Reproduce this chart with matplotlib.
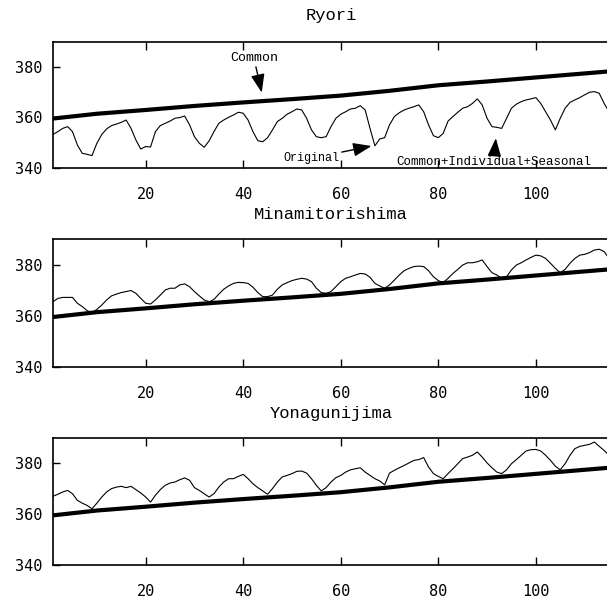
import numpy as np
import matplotlib
matplotlib.use('Agg')
import matplotlib.pyplot as plt

months = np.arange(1, 116)

# common trend (shared by all stations)
common_x = [1, 10, 20, 30, 40, 50, 60, 70, 80, 90, 100, 110, 115]
common_y = [359.5, 361.4, 362.9, 364.5, 365.9, 367.2, 368.6, 370.5, 372.7,
            374.2, 375.8, 377.4, 378.2]

ryori = [353.2, 354.3, 355.6, 356.3, 354.3, 349.0, 345.7, 345.3, 344.8, 349.7,
         353.2, 355.4, 356.7, 357.3, 358.0, 358.9, 355.6, 351.0, 347.4, 348.4,
         348.2, 354.3, 356.7, 357.6, 358.5, 359.6, 359.9, 360.5, 357.0, 352.3,
         349.7, 348.1, 350.6, 354.3, 357.6, 358.9, 360.0, 360.9, 362.0, 361.6,
         358.9, 354.3, 350.7, 350.3, 351.9, 355.0, 358.3, 359.6, 361.2, 362.2,
         363.3, 362.9, 359.6, 355.0, 352.3, 351.9, 352.3, 356.3, 359.6, 361.2,
         362.2, 363.3, 363.6, 364.6, 362.9, 355.6, 348.7, 351.4, 351.9, 357.0,
         360.3, 361.8, 362.9, 363.6, 364.2, 364.9, 362.2, 357.0, 352.7, 351.9,
         353.6, 358.5, 360.3, 362.0, 363.6, 364.2, 365.5, 367.3, 364.9, 359.6,
         356.3, 356.0, 355.6, 359.6, 363.6, 365.2, 366.2, 366.9, 367.3, 367.8,
         365.5, 362.2, 358.9, 355.0, 359.6, 363.6, 365.9, 366.9, 367.8, 368.9,
         369.9, 370.2, 369.5, 365.5, 362.2]

minami = [365.5, 366.8, 367.2, 367.2, 367.2, 364.9, 363.6, 362.0, 361.2, 362.5,
          364.2, 366.2, 367.8, 368.5, 369.1, 369.5, 369.9, 368.8, 366.8, 364.9,
          364.6, 366.2, 368.1, 370.1, 370.8, 370.8, 372.1, 372.5, 371.4, 369.5,
          367.8, 366.2, 365.5, 366.4, 368.5, 370.4, 371.7, 372.7, 373.1, 373.0,
          372.7, 371.2, 369.1, 367.5, 367.5, 368.1, 370.4, 372.1, 373.0, 373.8,
          374.3, 374.7, 374.4, 373.4, 370.8, 369.1, 368.8, 369.5, 371.4, 373.4,
          374.7, 375.3, 376.0, 376.6, 376.4, 375.1, 372.7, 371.7, 370.8, 372.1,
          374.0, 376.0, 377.7, 378.6, 379.3, 379.5, 379.3, 377.7, 375.3, 373.8,
          373.0, 374.7, 376.6, 378.2, 379.9, 380.8, 380.8, 381.2, 381.9, 379.3,
          376.9, 376.0, 374.7, 375.3, 378.0, 379.9, 380.8, 381.9, 382.9, 383.8,
          383.5, 382.5, 380.6, 378.6, 376.9, 378.2, 380.6, 382.5, 383.8, 384.1,
          384.8, 385.8, 386.1, 385.2, 382.5]

yonaguni = [367.0, 367.8, 368.7, 369.3, 368.0, 365.4, 364.3, 363.4, 362.1, 364.3,
            366.7, 368.7, 370.0, 370.6, 370.9, 370.4, 370.9, 369.6, 368.3, 366.7,
            364.7, 367.4, 369.6, 371.3, 372.2, 372.6, 373.5, 374.2, 373.3, 370.4,
            369.3, 368.0, 366.7, 368.0, 370.6, 372.6, 373.9, 373.9, 374.8, 375.6,
            373.9, 371.9, 370.4, 369.1, 367.8, 370.0, 372.6, 374.6, 375.2, 375.9,
            376.8, 376.9, 376.1, 373.9, 371.3, 369.1, 370.4, 372.6, 374.3, 375.2,
            376.5, 377.4, 377.8, 378.2, 376.5, 375.2, 373.9, 373.0, 371.5, 376.1,
            377.2, 378.2, 379.1, 380.1, 381.1, 381.4, 382.2, 378.5, 375.9, 374.8,
            373.9, 375.9, 377.8, 379.8, 381.8, 382.4, 383.1, 384.4, 382.4, 380.1,
            378.2, 376.5, 375.9, 377.4, 379.8, 381.4, 383.1, 384.8, 385.3, 385.4,
            384.8, 383.1, 381.1, 378.8, 377.4, 379.8, 383.1, 385.7, 386.6, 387.0,
            387.4, 388.3, 386.6, 385.0, 383.1]

stations = ['Ryori', 'Minamitorishima', 'Yonagunijima']
series = [ryori, minami, yonaguni]

title_font = 'Liberation Mono'
tick_font = 'DejaVu Sans Mono'

fig = plt.figure(figsize=(6.07, 6.03), dpi=100)
boxes = [[0.0873, 0.7219, 0.916, 0.209],
         [0.0873, 0.3919, 0.916, 0.2112],
         [0.0873, 0.0630, 0.916, 0.2111]]
pads = [15.5, 14.5, 14.5]
axes = []
for name, vals, box, pad in zip(stations, series, boxes, pads):
    ax = fig.add_axes(box)
    ax.plot(common_x, common_y, color='black', lw=3)
    ax.plot(months, vals, color='black', lw=0.8)
    ax.set_xlim(1, 115)
    ax.set_ylim(340, 390)
    ax.set_xticks([20, 40, 60, 80, 100])
    ax.set_yticks([340, 360, 380])
    ax.tick_params(axis='x', direction='in', top=True, length=6, width=1,
                   pad=14, labelsize=11)
    ax.tick_params(axis='y', direction='in', length=5, width=1, pad=8,
                   labelsize=11)
    for lab in ax.get_xticklabels() + ax.get_yticklabels():
        lab.set_family(tick_font)
    ax.spines['right'].set_visible(False)
    for s in ['left', 'top', 'bottom']:
        ax.spines[s].set_linewidth(1.2)
    ax.set_title(name, family=title_font, fontsize=12.3, pad=pad)
    axes.append(ax)

ax = axes[0]
arrow = dict(arrowstyle='-|>,head_length=0.8,head_width=0.3', color='black',
             lw=1, mutation_scale=14, shrinkA=0, shrinkB=0)
ax.annotate('Common', xy=(43.8, 369.8), xytext=(42.2, 383.5),
            family=title_font, fontsize=9.5, ha='center', va='center',
            arrowprops=arrow)
ax.annotate('Original', xy=(66.3, 348.6), xytext=(53.9, 343.7),
            family=title_font, fontsize=8.5, ha='center', va='center',
            arrowprops=arrow)
ax.annotate('Common+Individual+Seasonal', xy=(91.8, 351.7), xytext=(91.4, 342.4),
            family=title_font, fontsize=9, ha='center', va='center',
            arrowprops=arrow)

fig.savefig('out.png', dpi=100)
